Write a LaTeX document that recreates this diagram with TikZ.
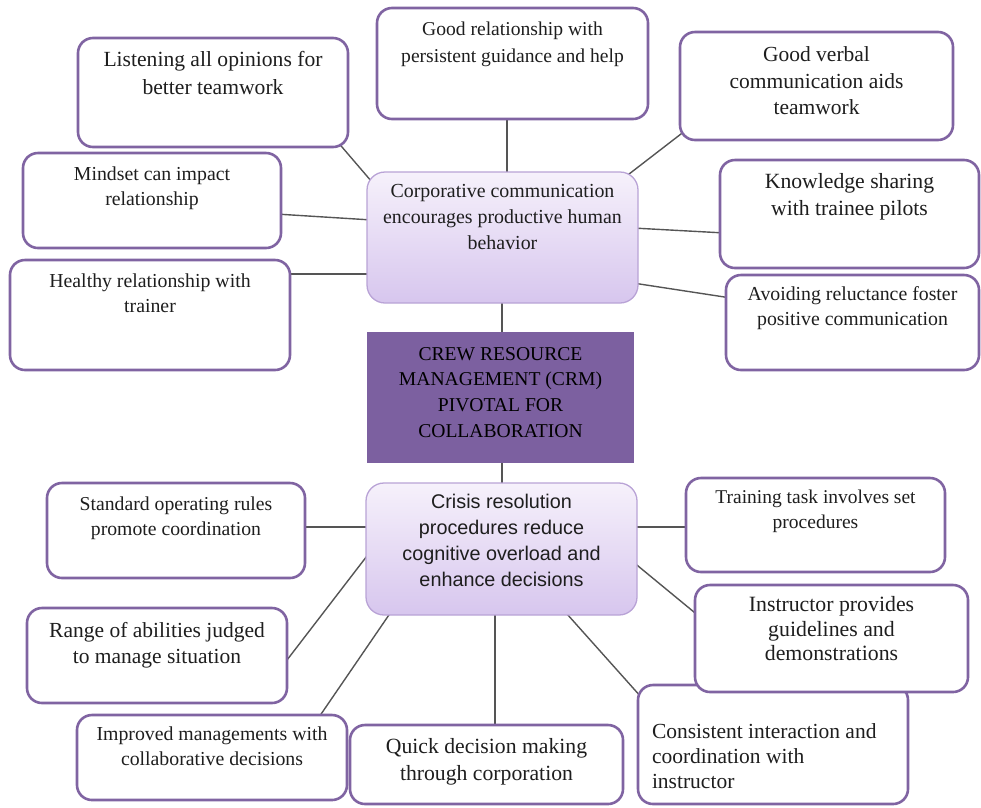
\documentclass[tikz,border=0pt]{standalone}
\usepackage{fontspec}
\setmainfont{Liberation Serif}
\newfontfamily\arialf{Liberation Sans}
\usetikzlibrary{calc,backgrounds}
\definecolor{bordp}{RGB}{128,100,162}
\definecolor{lightb}{RGB}{185,163,214}
\definecolor{gtop}{RGB}{246,241,251}
\definecolor{gbot}{RGB}{215,198,238}
\definecolor{crmfill}{RGB}{124,96,160}
\definecolor{conn}{RGB}{85,85,85}
\definecolor{txtc}{RGB}{30,30,30}
% W, H, pad, font size, baselineskip, alignment, text
\newcommand\bt[7]{\parbox[c][#2pt][t]{#1pt}{\fontsize{#4pt}{#5pt}\selectfont\vspace*{#3pt}#6\strut #7}}
\newcommand\lefttxt{\raggedright\leftskip=14pt\relax}
\begin{document}
\begin{tikzpicture}[x=1pt,y=-1pt,
  obox/.style={draw=bordp,line width=2.6pt,rounded corners=15pt,fill=white,inner sep=0pt,outer sep=0pt,text=txtc},
  hub/.style={draw=lightb,line width=1.3pt,rounded corners=18pt,top color=gtop,bottom color=gbot,inner sep=0pt,outer sep=0pt,text=txtc},
  core/.style={fill=crmfill,inner sep=0pt,outer sep=0pt,text=black},
  link/.style={draw=conn,line width=1.4pt}]
\useasboundingbox (0,0) rectangle (981,807);

% top cluster
\node[obox] (lis) at (213,92.5) {\bt{270}{109}{8.4}{21.6}{28}{\centering}{Listening all opinions for\\better teamwork}};
\node[obox] (min) at (152,200.5) {\bt{258}{95}{9.5}{19.8}{25}{\centering}{Mindset can impact\\relationship}};
\node[obox] (hea) at (150,315) {\bt{280}{110}{9.5}{19.8}{25}{\centering}{Healthy relationship with\\trainer}};
\node[obox] (gr) at (512.5,63.5) {\bt{271}{111}{8.1}{19.6}{27}{\centering}{Good relationship with\\persistent guidance and help}};
\node[obox] (gv) at (816.5,86) {\bt{273}{108}{11.4}{21.5}{26.5}{\centering}{Good verbal\\communication aids\\teamwork}};
\node[obox] (kn) at (849.5,214) {\bt{259}{108}{9.1}{21.7}{27}{\centering}{Knowledge sharing\\with trainee pilots}};
\node[obox] (av) at (852.5,322.5) {\bt{253}{95}{7.5}{19.8}{25}{\centering}{Avoiding reluctance foster\\positive communication}};
\node[hub] (cor) at (502.5,237.5) {\bt{271}{131}{6.8}{19.9}{26}{\centering}{Corporative communication\\encourages productive human\\behavior}};

% core
\node[core] (crm) at (500.5,397.5) {\bt{267}{131}{10}{19.6}{25.7}{\centering}{CREW RESOURCE\\MANAGEMENT (CRM)\\PIVOTAL FOR\\COLLABORATION}};

% bottom cluster
\node[hub] (cri) at (501.5,549) {\bt{271}{132}{6.6}{19.8}{26.3}{\centering\arialf}{Crisis resolution\\procedures reduce\\cognitive overload and\\enhance decisions}};
\node[obox] (st) at (176,530.5) {\bt{258}{95}{9.5}{19.7}{25}{\centering}{Standard operating rules\\promote coordination}};
\node[obox] (ra) at (157,655.5) {\bt{260}{95}{10.8}{21.5}{26}{\centering}{Range of abilities judged\\to manage situation}};
\node[obox] (im) at (212,757.5) {\bt{270}{85}{7.5}{19.8}{25}{\centering}{Improved managements with\\collaborative decisions}};
\node[obox] (qu) at (486.5,764.5) {\bt{273}{79}{9.1}{21.7}{27}{\centering}{Quick decision making\\through corporation}};
\node[obox] (tr) at (815.5,525) {\bt{259}{94}{7.5}{19.5}{25}{\centering}{Training task involves set\\procedures}};
\node[obox] (co) at (773,744.5) {\bt{270}{119}{35.5}{21.5}{25}{\lefttxt}{Consistent interaction and\\coordination with\\instructor}};
\node[obox] (ins) at (831.5,638.5) {\bt{273}{107}{9.8}{21.8}{24.5}{\centering}{Instructor provides\\guidelines and\\demonstrations}};

\begin{scope}[on background layer]
\draw[link] ($(lis.south east)+(-12,-7)$) -- ($(cor.north west)+(11,17)$);
\draw[link] ($(min.east)+(-5,13.5)$) -- ($(cor.west)+(5,-17.5)$);
\draw[link] ($(hea.east)+(-5,-41)$) -- ($(cor.west)+(5,36.5)$);
\draw[link] ($(gr.south)+(-5.5,-5)$) -- ($(cor.north)+(4.5,5)$);
\draw[link] ($(gv.south west)+(10,-13)$) -- ($(cor.north east)+(-18,9)$);
\draw[link] ($(kn.west)+(5,19)$) -- ($(cor.east)+(-5,-9.5)$);
\draw[link] ($(av.west)+(5,-24.5)$) -- ($(cor.east)+(-5,45.5)$);
\draw[link] ($(cor.south)+(-0.5,-3)$) -- ($(crm.north)+(1.5,3)$);
\draw[link] ($(crm.south)+(1.5,-3)$) -- ($(cri.north)+(0.5,3)$);
\draw[link] ($(st.east)+(-5,-3.5)$) -- ($(cri.west)+(5,-22)$);
\draw[link] ($(ra.east)+(-5,11)$) -- ($(cri.west)+(4,3)$);
\draw[link] ($(im.north)+(105,5)$) -- ($(cri.south)+(-108.5,-6)$);
\draw[link] ($(qu.north)+(8.5,5)$) -- ($(cri.south)+(-6.5,-5)$);
\draw[link] ($(cri.south)+(61.5,-5.5)$) -- ($(co.north west)+(4,13)$);
\draw[link] ($(tr.west)+(5,2)$) -- ($(cri.east)+(-5,-22)$);
\draw[link] ($(cri.east)+(-5,12)$) -- ($(ins.west)+(5,-21.5)$);
\end{scope}
\end{tikzpicture}
\end{document}
